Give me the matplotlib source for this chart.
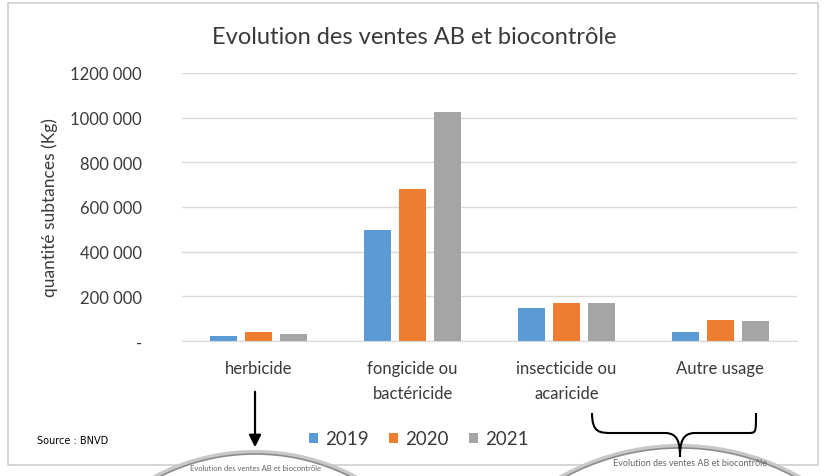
import numpy as np
import matplotlib.pyplot as plt
from matplotlib.patches import Circle, Rectangle, PathPatch
from matplotlib.path import Path

plt.rcParams['font.family'] = ['Lato', 'DejaVu Sans']

categories = ["herbicide", "fongicide ou\nbactéricide", "insecticide ou\nacaricide", "Autre usage"]
years = ["2019", "2020", "2021"]
v2019 = [22000, 497000, 148000, 40000]
v2020 = [40000, 680000, 170000, 94000]
v2021 = [30000, 1025000, 170000, 90000]
yticks = [0, 200000, 400000, 600000, 800000, 1000000, 1200000]
ytick_labels = ["-", "200 000", "400 000", "600 000", "800 000", "1000 000", "1200 000"]
colors = ["#5B9BD5", "#ED7D31", "#A5A5A5"]
txt = "#3A3A3A"

W, H = 826, 477
fig = plt.figure(figsize=(W / 100, H / 100), dpi=100)

# chart frame in pixel coordinates
deco = fig.add_axes([0, 0, 1, 1], zorder=0)
deco.set_xlim(0, W)
deco.set_ylim(H, 0)
deco.axis("off")
deco.add_patch(Rectangle((8, 4), 810, 462, fill=False, ec="#D0D0D0", lw=1.2))

ax = fig.add_axes([182 / W, (H - 342) / H, 615 / W, 268 / H], zorder=1)
ax.patch.set_alpha(0)
x = np.arange(len(categories))
w = 0.175
step = 0.228
for i, (vals, c, yr) in enumerate(zip([v2019, v2020, v2021], colors, years)):
    ax.bar(x + (i - 1) * step, vals, width=w, color=c, label=yr, zorder=2)

ax.set_xlim(-0.5, len(categories) - 0.5)
ax.set_ylim(0, 1200000)
ax.set_yticks(yticks)
ax.set_yticklabels(ytick_labels, fontsize=12, color=txt)
ax.set_xticks(x)
ax.set_xticklabels(categories, fontsize=12, color=txt, linespacing=1.65, va="top")
ax.tick_params(axis="both", length=0)
ax.tick_params(axis="x", pad=14)
ax.tick_params(axis="y", pad=29)
ax.grid(axis="y", color="#D9D9D9", lw=1, zorder=0)
for s in ["top", "right", "left"]:
    ax.spines[s].set_visible(False)
ax.spines["bottom"].set_color("#D9D9D9")
ax.set_ylabel("quantité subtances (Kg)", fontsize=12.5, color=txt)
ax.yaxis.set_label_coords(-(182 - 58) / 615, 0.5)

fig.text(414 / W, 1 - 38 / H, "Evolution des ventes AB et biocontrôle",
         ha="center", va="center", fontsize=17, color=txt)

fig.legend(loc="center", bbox_to_anchor=(419 / W, 1 - 440 / H), ncol=3, frameon=False,
           fontsize=13.5, handlelength=0.45, handleheight=0.45, handletextpad=0.4,
           columnspacing=1.1, labelcolor=txt)

fig.text(37 / W, 1 - 441 / H, "Source : BNVD", ha="left", va="center",
         fontsize=7, family=["Liberation Sans Narrow", "DejaVu Sans"])

over = fig.add_axes([0, 0, 1, 1], zorder=3)
over.set_xlim(0, W)
over.set_ylim(H, 0)
over.axis("off")

# magnifier circles
for cx, cy, r in [(255, 455 + 212, 212), (680, 449 + 242, 242)]:
    over.add_patch(Circle((cx, cy), r + 2, fc="none", ec="#C8C8C8", lw=3))
    over.add_patch(Circle((cx, cy), r, fc="white", ec="#8C8C8C", lw=1.2))
over.text(255, 469, "Evolution des ventes AB et biocontrôle", ha="center", va="center",
          fontsize=5.5, color="#666666")
over.text(690, 464, "Evolution des ventes AB et biocontrôle", ha="center", va="center",
          fontsize=6.5, color="#666666")

# arrow
over.annotate("", xy=(255, 451), xytext=(255, 390),
              arrowprops=dict(arrowstyle="-|>", color="black", lw=1.6, mutation_scale=18))

# curly brace
verts = [(592, 414), (592, 434), (600, 434), (612, 434),
         (665, 434), (678, 434), (680, 444), (680, 458),
         (680, 444), (682, 434), (695, 434),
         (748, 434), (756, 434), (756, 434), (756, 414)]
codes = [Path.MOVETO, Path.CURVE4, Path.CURVE4, Path.CURVE4,
         Path.LINETO, Path.CURVE4, Path.CURVE4, Path.CURVE4,
         Path.CURVE4, Path.CURVE4, Path.CURVE4,
         Path.LINETO, Path.CURVE4, Path.CURVE4, Path.CURVE4]
over.add_patch(PathPatch(Path(verts, codes), fc="none", ec="black", lw=1.5))

fig.savefig("out.png", dpi=100)
